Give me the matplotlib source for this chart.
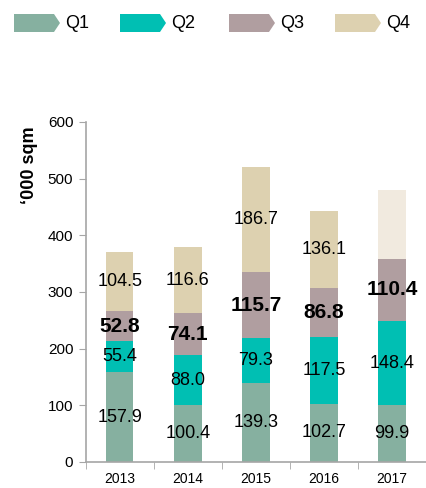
import numpy as np
import matplotlib
matplotlib.use("Agg")
from matplotlib import pyplot as plt
from matplotlib.patches import Polygon

plt.rcParams['font.family'] = ['Liberation Sans', 'DejaVu Sans']

# data ('000 sqm per quarter)
years = ["2013", "2014", "2015", "2016", "2017"]
q1 = [157.9, 100.4, 139.3, 102.7, 99.9]
q2 = [55.4, 88.0, 79.3, 117.5, 148.4]
q3 = [52.8, 74.1, 115.7, 86.8, 110.4]
q4 = [104.5, 116.6, 186.7, 136.1, 121.0]
q4_labels = ["104.5", "116.6", "186.7", "136.1", ""]
quarters = ["Q1", "Q2", "Q3", "Q4"]

colors = ["#86B0A0", "#00BFB3", "#B09EA0", "#DDD1B0"]
q4_forecast_color = "#F1EADF"
axis_grey = "#A6A6A6"

fig = plt.figure(figsize=(4.27, 4.88), dpi=100)
ax = fig.add_axes([0.201, 0.0533, 0.80, 0.697])

x = np.arange(len(years))
width = 0.4
series = [q1, q2, q3, q4]
bottom = np.zeros(len(years))
for i, vals in enumerate(series):
    vals = np.array(vals)
    cols = [colors[i]] * len(years)
    if i == 3:
        cols[-1] = q4_forecast_color
    ax.bar(x, vals, width, bottom=bottom, color=cols, edgecolor="none")
    for j, v in enumerate(vals):
        if i == 3:
            txt = q4_labels[j]
        else:
            txt = f"{v:.1f}"
        if not txt:
            continue
        if i == 2:
            ax.text(x[j], bottom[j] + v / 2, txt, ha="center", va="center",
                    fontsize=15, fontweight="bold", color="black")
        else:
            ax.text(x[j], bottom[j] + v / 2, txt, ha="center", va="center",
                    fontsize=13, color="black")
    bottom += vals

ax.set_ylim(0, 600)
ax.set_xlim(-0.5, 4.52)
ax.set_yticks(np.arange(0, 601, 100))
ax.set_xticks(x)
ax.set_xticklabels(years)
ax.set_xticks(np.arange(-0.5, 4.5, 1.0), minor=True)
ax.tick_params(axis="x", which="major", length=0, labelsize=10, pad=7)
ax.tick_params(axis="x", which="minor", length=5, color=axis_grey, direction="out")
ax.tick_params(axis="y", length=5, color=axis_grey, labelsize=11, pad=4)

for s in ["top", "right"]:
    ax.spines[s].set_visible(False)
for s in ["left", "bottom"]:
    ax.spines[s].set_color(axis_grey)
    ax.spines[s].set_linewidth(1.2)

fig.text(30 / 427, 1 - 165 / 488, "\u2018000 sqm", rotation=90, ha="center", va="center",
         fontsize=13, fontweight="bold")

# legend with arrow-shaped swatches
W, H = 427.0, 488.0
legend_x = [14, 120, 229, 335]
for k, name in enumerate(quarters):
    x0 = legend_x[k]
    pts = [(x0, 14), (x0 + 40, 14), (x0 + 46, 23), (x0 + 40, 32), (x0, 32)]
    pts = [(px / W, 1 - py / H) for px, py in pts]
    fig.patches.append(Polygon(pts, closed=True, transform=fig.transFigure,
                               facecolor=colors[k], edgecolor="none"))
    fig.text((x0 + 51) / W, 1 - 24 / H, name, ha="left", va="center", fontsize=13)

fig.savefig("out.png", dpi=100)
